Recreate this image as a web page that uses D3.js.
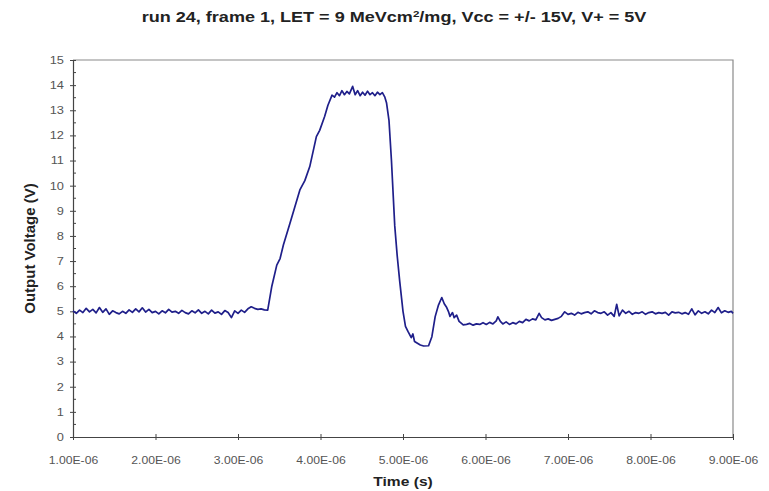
<!DOCTYPE html>
<html><head><meta charset="utf-8">
<script src="https://cdn.jsdelivr.net/npm/d3@7"></script>
<style>body{margin:0;background:#fff}svg{display:block}</style>
</head><body>
<svg id="c" width="769" height="491"></svg>
<script>
// time in microseconds
const timeUs = [
1.00,1.04,1.08,1.12,1.16,1.20,1.24,1.28,1.32,1.36,1.40,1.44,1.48,1.52,1.56,1.60,1.64,1.68,1.72,1.76,
1.80,1.84,1.88,1.92,1.96,2.00,2.04,2.08,2.12,2.16,2.20,2.24,2.28,2.32,2.36,2.40,2.44,2.48,2.52,2.56,
2.60,2.64,2.68,2.72,2.76,2.80,2.84,2.88,2.92,2.96,3.00,3.04,3.08,3.12,3.16,3.20,3.24,3.28,3.32,3.36,
3.41,3.47,3.51,3.55,3.63,3.75,3.81,3.87,3.95,3.99,4.05,4.09,4.14,
4.17,4.20,4.23,4.26,4.29,4.32,4.35,4.39,4.42,4.45,4.48,4.51,4.54,4.57,4.60,4.63,4.66,4.69,4.72,4.75,4.78,4.80,
4.83,4.86,4.90,4.93,4.96,5.00,5.03,5.06,5.10,5.12,5.14,5.18,5.21,5.25,5.31,5.35,5.39,5.43,5.47,5.50,5.53,5.55,5.57,5.60,5.62,5.65,5.68,5.73,
5.77,5.81,5.85,5.89,5.93,5.97,6.01,6.05,6.09,6.13,6.15,6.18,6.21,6.25,6.29,6.33,6.37,6.41,6.45,6.49,
6.53,6.57,6.61,6.65,6.68,6.72,6.76,6.80,6.84,6.88,6.92,6.96,7.00,7.04,7.08,7.12,7.16,7.20,
7.24,7.28,7.32,7.36,7.40,7.44,7.48,7.52,7.56,7.59,7.62,7.66,7.70,7.74,7.78,7.82,7.86,7.90,7.94,7.98,
8.02,8.06,8.10,8.14,8.18,8.22,8.26,8.30,8.34,8.38,8.42,8.46,8.50,8.54,8.58,8.62,8.66,8.70,8.74,8.78,
8.82,8.86,8.90,8.94,8.98,9.00
];
const voltage = [
5.02,4.92,5.05,4.95,5.12,4.98,5.08,4.94,5.15,4.96,5.10,4.88,5.02,4.95,4.90,5.00,4.92,5.06,4.96,5.10,
4.98,5.14,4.97,5.08,4.95,5.00,4.90,5.02,4.94,5.08,4.97,5.00,4.92,5.04,4.95,4.90,5.02,4.94,5.06,4.92,
5.00,4.90,5.05,4.93,4.98,4.88,5.03,4.95,4.75,5.02,4.92,5.05,4.96,5.10,5.18,5.12,5.08,5.10,5.06,5.05,
6.00,6.84,7.10,7.64,8.50,9.83,10.20,10.76,11.95,12.20,12.75,13.20,13.60,
13.52,13.70,13.58,13.78,13.62,13.75,13.65,13.95,13.62,13.78,13.58,13.72,13.60,13.76,13.62,13.70,13.58,13.72,13.62,13.70,13.52,13.30,
12.60,11.00,8.40,7.20,6.20,5.00,4.40,4.20,3.95,4.10,3.80,3.72,3.66,3.62,3.63,3.99,4.79,5.25,5.55,5.30,5.15,5.00,4.80,4.95,4.75,4.85,4.60,4.46,
4.48,4.52,4.45,4.50,4.48,4.55,4.48,4.56,4.50,4.62,4.78,4.60,4.50,4.58,4.48,4.55,4.50,4.60,4.55,4.68,
4.62,4.70,4.66,4.92,4.75,4.66,4.70,4.64,4.68,4.72,4.80,4.98,4.88,4.92,4.85,4.96,4.90,4.95,
4.98,4.90,5.02,4.95,4.92,4.98,4.85,4.95,4.80,5.28,4.82,5.05,4.92,5.00,4.88,4.95,4.92,4.98,4.88,4.95,
4.98,4.90,4.95,4.92,4.96,4.85,4.98,4.94,4.96,4.90,4.95,4.88,5.10,4.86,5.02,4.92,4.98,4.90,5.05,4.95,
5.15,4.94,5.02,4.96,5.00,4.92
];
const xTickValues = [1e-6,2e-6,3e-6,4e-6,5e-6,6e-6,7e-6,8e-6,9e-6];
const xTickLabels = ["1.00E-06","2.00E-06","3.00E-06","4.00E-06","5.00E-06","6.00E-06","7.00E-06","8.00E-06","9.00E-06"];
const yTickValues = [0,1,2,3,4,5,6,7,8,9,10,11,12,13,14,15];
const titleText = "run 24, frame 1, LET = 9 MeVcm";
const titleSup = "2";
const titleRest = "/mg, Vcc = +/- 15V, V+ = 5V";
const xTitle = "Time (s)";
const yTitle = "Output Voltage (V)";

const W = 769, H = 491;
const m = {left:73, right:36, top:60, bottom:54};
const svg = d3.select("#c");
const x = d3.scaleLinear().domain([1e-6, 9e-6]).range([m.left, W - m.right]);
const y = d3.scaleLinear().domain([0, 15]).range([H - m.bottom, m.top]);
const font = "'Liberation Sans', Arial, sans-serif";
const SX = 1.22; // horizontal text stretch seen in the reference

// plot area border (top & right)
svg.append("path")
  .attr("d", `M${x(1e-6)},${y(15)}H${x(9e-6)}V${y(0)}`)
  .attr("fill","none").attr("stroke","#8a8a8a").attr("stroke-width",1.2);

// Y axis
const yAxis = svg.append("g").attr("transform", `translate(${x(1e-6)},0)`)
  .call(d3.axisLeft(y).tickValues(yTickValues).tickSize(0).tickPadding(9).tickFormat(d3.format("d")));
yAxis.select(".domain").attr("stroke","#444").attr("stroke-width",1.2);
yAxis.selectAll("text").attr("font-family",font).attr("font-size",10.5).attr("fill","#555")
  .attr("x",0).attr("transform",`translate(-9,0) scale(${SX},1)`);
yAxis.selectAll(".tick").append("line").attr("x1",-3).attr("x2",3).attr("stroke","#444");
// minor ticks (inside)
svg.append("g").selectAll("line").data(d3.range(0.5, 15, 1)).join("line")
  .attr("x1", x(1e-6)).attr("x2", x(1e-6)+3)
  .attr("y1", d => y(d)).attr("y2", d => y(d)).attr("stroke","#444");

// X axis
const xAxis = svg.append("g").attr("transform", `translate(0,${y(0)})`)
  .call(d3.axisBottom(x).tickValues(xTickValues).tickSize(0).tickPadding(20)
    .tickFormat((d,i) => xTickLabels[i]));
xAxis.select(".domain").attr("stroke","#444").attr("stroke-width",1.2);
xAxis.selectAll("text").attr("font-family",font).attr("font-size",10).attr("fill","#555")
  .attr("transform",`scale(${SX},1)`);
xAxis.selectAll(".tick").append("line").attr("y1",-3).attr("y2",3).attr("stroke","#444");

// data line
const pts = timeUs.map((t,i) => [t*1e-6, voltage[i]]);
svg.append("path").datum(pts)
  .attr("d", d3.line().x(d => x(d[0])).y(d => y(d[1])))
  .attr("fill","none").attr("stroke","#1f1f8a").attr("stroke-width",1.7)
  .attr("stroke-linejoin","round");

// title
const title = svg.append("text")
  .attr("transform", `translate(394,22) scale(1.29,1)`)
  .attr("text-anchor","middle").attr("font-family",font).attr("font-weight","bold")
  .attr("font-size",14).attr("fill","#222");
title.append("tspan").text(titleText);
title.append("tspan").attr("dy",-5).attr("font-size",9).text(titleSup);
title.append("tspan").attr("dy",5).text(titleRest);

// axis titles
svg.append("text").attr("transform", `translate(403,486) scale(1.3,1)`)
  .attr("text-anchor","middle").attr("font-family",font).attr("font-weight","bold")
  .attr("font-size",12).attr("fill","#222").text(xTitle);
svg.append("text").attr("transform", `translate(35,${(y(0)+y(15))/2}) rotate(-90)`)
  .attr("text-anchor","middle").attr("font-family",font).attr("font-weight","bold")
  .attr("font-size",15).attr("fill","#222").text(yTitle);
</script>
</body></html>
